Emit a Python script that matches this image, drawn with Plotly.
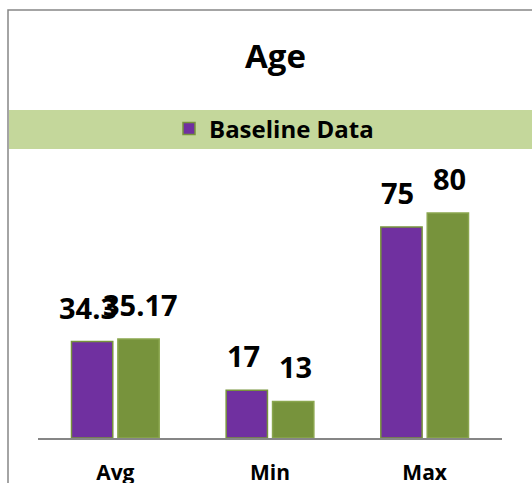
import plotly.graph_objects as go

W, H = 532, 483

categories = ["Avg", "Min", "Max"]
baseline_values = [34.3, 17, 75]
second_values = [35.17, 13, 80]
baseline_labels = ["34.3", "17", "75"]
second_labels = ["35.17", "13", "80"]

PURPLE = "#7030a0"
GREEN = "#77933c"
FONT = "Open Sans"

def px_x(p):
    return p / W

def px_y(p):
    return (H - p) / H

fig = go.Figure()
fig.add_trace(go.Bar(
    x=categories, y=baseline_values, name="<b>Baseline Data</b>",
    marker=dict(color=PURPLE, line=dict(color=GREEN, width=1.5)),
    showlegend=True,
))
fig.add_trace(go.Bar(
    x=categories, y=second_values, name="Follow-up",
    marker=dict(color=GREEN, line=dict(color="#8aa64e", width=1.5)),
    showlegend=False,
))

annotations = []
for cat, v, lab in zip(categories, baseline_values, baseline_labels):
    annotations.append(dict(x=cat, y=v, xref="x", yref="y", text=f"<b>{lab}</b>",
                            showarrow=False, xshift=-27, yshift=13, yanchor="bottom",
                            font=dict(family=FONT, size=29, color="black")))
for cat, v, lab in zip(categories, second_values, second_labels):
    annotations.append(dict(x=cat, y=v, xref="x", yref="y", text=f"<b>{lab}</b>",
                            showarrow=False, xshift=25, yshift=13, yanchor="bottom",
                            font=dict(family=FONT, size=29, color="black")))
annotations.append(dict(x=px_x(275), y=px_y(56), xref="paper", yref="paper",
                        text="<b>Age</b>", showarrow=False, xanchor="center", yanchor="middle",
                        font=dict(family=FONT, size=33, color="black")))

shapes = [
    # chart border
    dict(type="rect", xref="paper", yref="paper", x0=px_x(8), x1=px_x(560),
         y0=px_y(520), y1=px_y(10), line=dict(color="#868686", width=1.5), layer="below"),
    # legend band
    dict(type="rect", xref="paper", yref="paper", x0=px_x(9), x1=px_x(540),
         y0=px_y(149), y1=px_y(110), fillcolor="#c4d79b", line=dict(width=0), layer="below"),
]

fig.update_layout(
    width=W, height=H,
    margin=dict(l=0, r=0, t=0, b=0),
    paper_bgcolor="white", plot_bgcolor="white",
    barmode="group", bargap=0.40, bargroupgap=0.11,
    showlegend=True,
    legend=dict(x=px_x(274), y=px_y(129), xanchor="center", yanchor="middle",
                orientation="h", bgcolor="rgba(0,0,0,0)", itemwidth=30,
                font=dict(family=FONT, size=24, color="black")),
    xaxis=dict(domain=[px_x(38), px_x(502)], showgrid=False, showline=True,
               linecolor="#868686", linewidth=1.5, ticks="", automargin=False,
               tickfont=dict(family=FONT, size=21, color="black"),
               ticklabelstandoff=15, fixedrange=True),
    yaxis=dict(domain=[px_y(438), px_y(156.75)], range=[0, 100], visible=False,
               showgrid=False, zeroline=False, fixedrange=True, automargin=False),
    annotations=annotations,
    shapes=shapes,
)
fig.update_xaxes(tickvals=categories, ticktext=[f"<b>{c}</b>" for c in categories])

fig.write_html("out.html")
